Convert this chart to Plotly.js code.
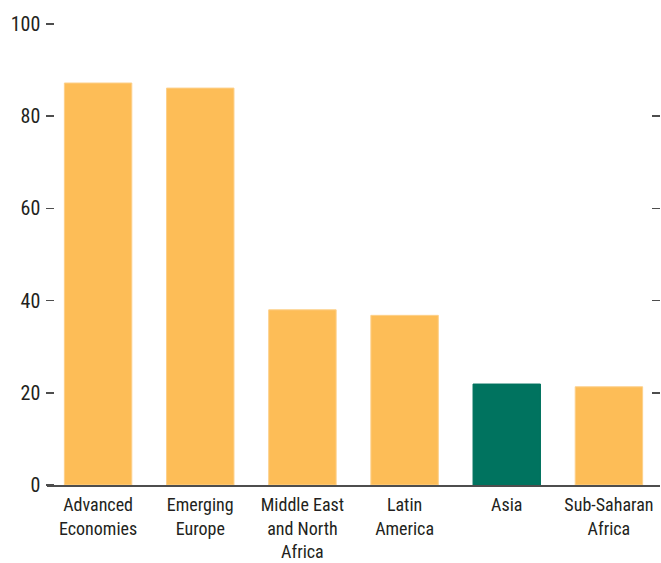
<!DOCTYPE html>
<html>
<head>
<meta charset="utf-8">
<script src="https://cdn.plot.ly/plotly-3.0.1.min.js"></script>
<style>html,body{margin:0;padding:0;background:#fff;}#chart{width:661px;height:563px;}</style>
</head>
<body>
<div id="chart"></div>
<script>
var categories = ["Advanced<br>Economies", "Emerging<br>Europe", "Middle East<br>and North<br>Africa", "Latin<br>America", "Asia", "Sub-Saharan<br>Africa"];
var values = [87.2, 86.1, 38.0, 36.8, 21.9, 21.3];
var barColors = ["#FDBD57", "#FDBD57", "#FDBD57", "#FDBD57", "#00735F", "#FDBD57"];
var lineColors = ["#FDD08A", "#FDD08A", "#FDD08A", "#FDD08A", "#00735F", "#FDD08A"];
var tickVals = [0, 20, 40, 60, 80, 100];

var font = "'Liberation Sans Narrow', 'Arial Narrow', 'Roboto Condensed', sans-serif";

var data = [{
  type: "bar",
  x: categories,
  y: values,
  marker: {color: barColors, line: {color: lineColors, width: 1}},
  hoverinfo: "none"
}, {
  type: "scatter",
  x: categories,
  y: values,
  yaxis: "y2",
  mode: "none",
  showlegend: false,
  hoverinfo: "none"
}];

var layout = {
  width: 661,
  height: 563,
  margin: {l: 47, r: 1, t: 24, b: 78},
  paper_bgcolor: "#fff",
  plot_bgcolor: "#fff",
  showlegend: false,
  bargap: 0.34,
  font: {family: font, size: 19, color: "#231F20"},
  xaxis: {
    showgrid: false,
    zeroline: false,
    showline: true,
    linecolor: "#4D4D4D",
    linewidth: 1.5,
    ticks: "",
    ticklabelstandoff: 3,
    tickfont: {family: font, size: 18, color: "#231F20"},
    fixedrange: true
  },
  yaxis: {
    range: [0, 100],
    anchor: "free",
    position: 0.012,
    tickvals: tickVals,
    ticktext: tickVals.map(String),
    ticks: "outside",
    ticklen: 8,
    tickwidth: 1.5,
    tickcolor: "#4D4D4D",
    showgrid: false,
    zeroline: false,
    showline: false,
    ticklabelstandoff: 2,
    tickfont: {family: font, size: 20, color: "#231F20"},
    fixedrange: true
  },
  yaxis2: {
    range: [0, 100],
    overlaying: "y",
    side: "right",
    tickvals: tickVals,
    showticklabels: false,
    ticks: "inside",
    ticklen: 8,
    tickwidth: 1.5,
    tickcolor: "#4D4D4D",
    showgrid: false,
    zeroline: false,
    showline: false,
    fixedrange: true
  }
};

Plotly.newPlot("chart", data, layout, {displayModeBar: false, staticPlot: true});
</script>
</body>
</html>
